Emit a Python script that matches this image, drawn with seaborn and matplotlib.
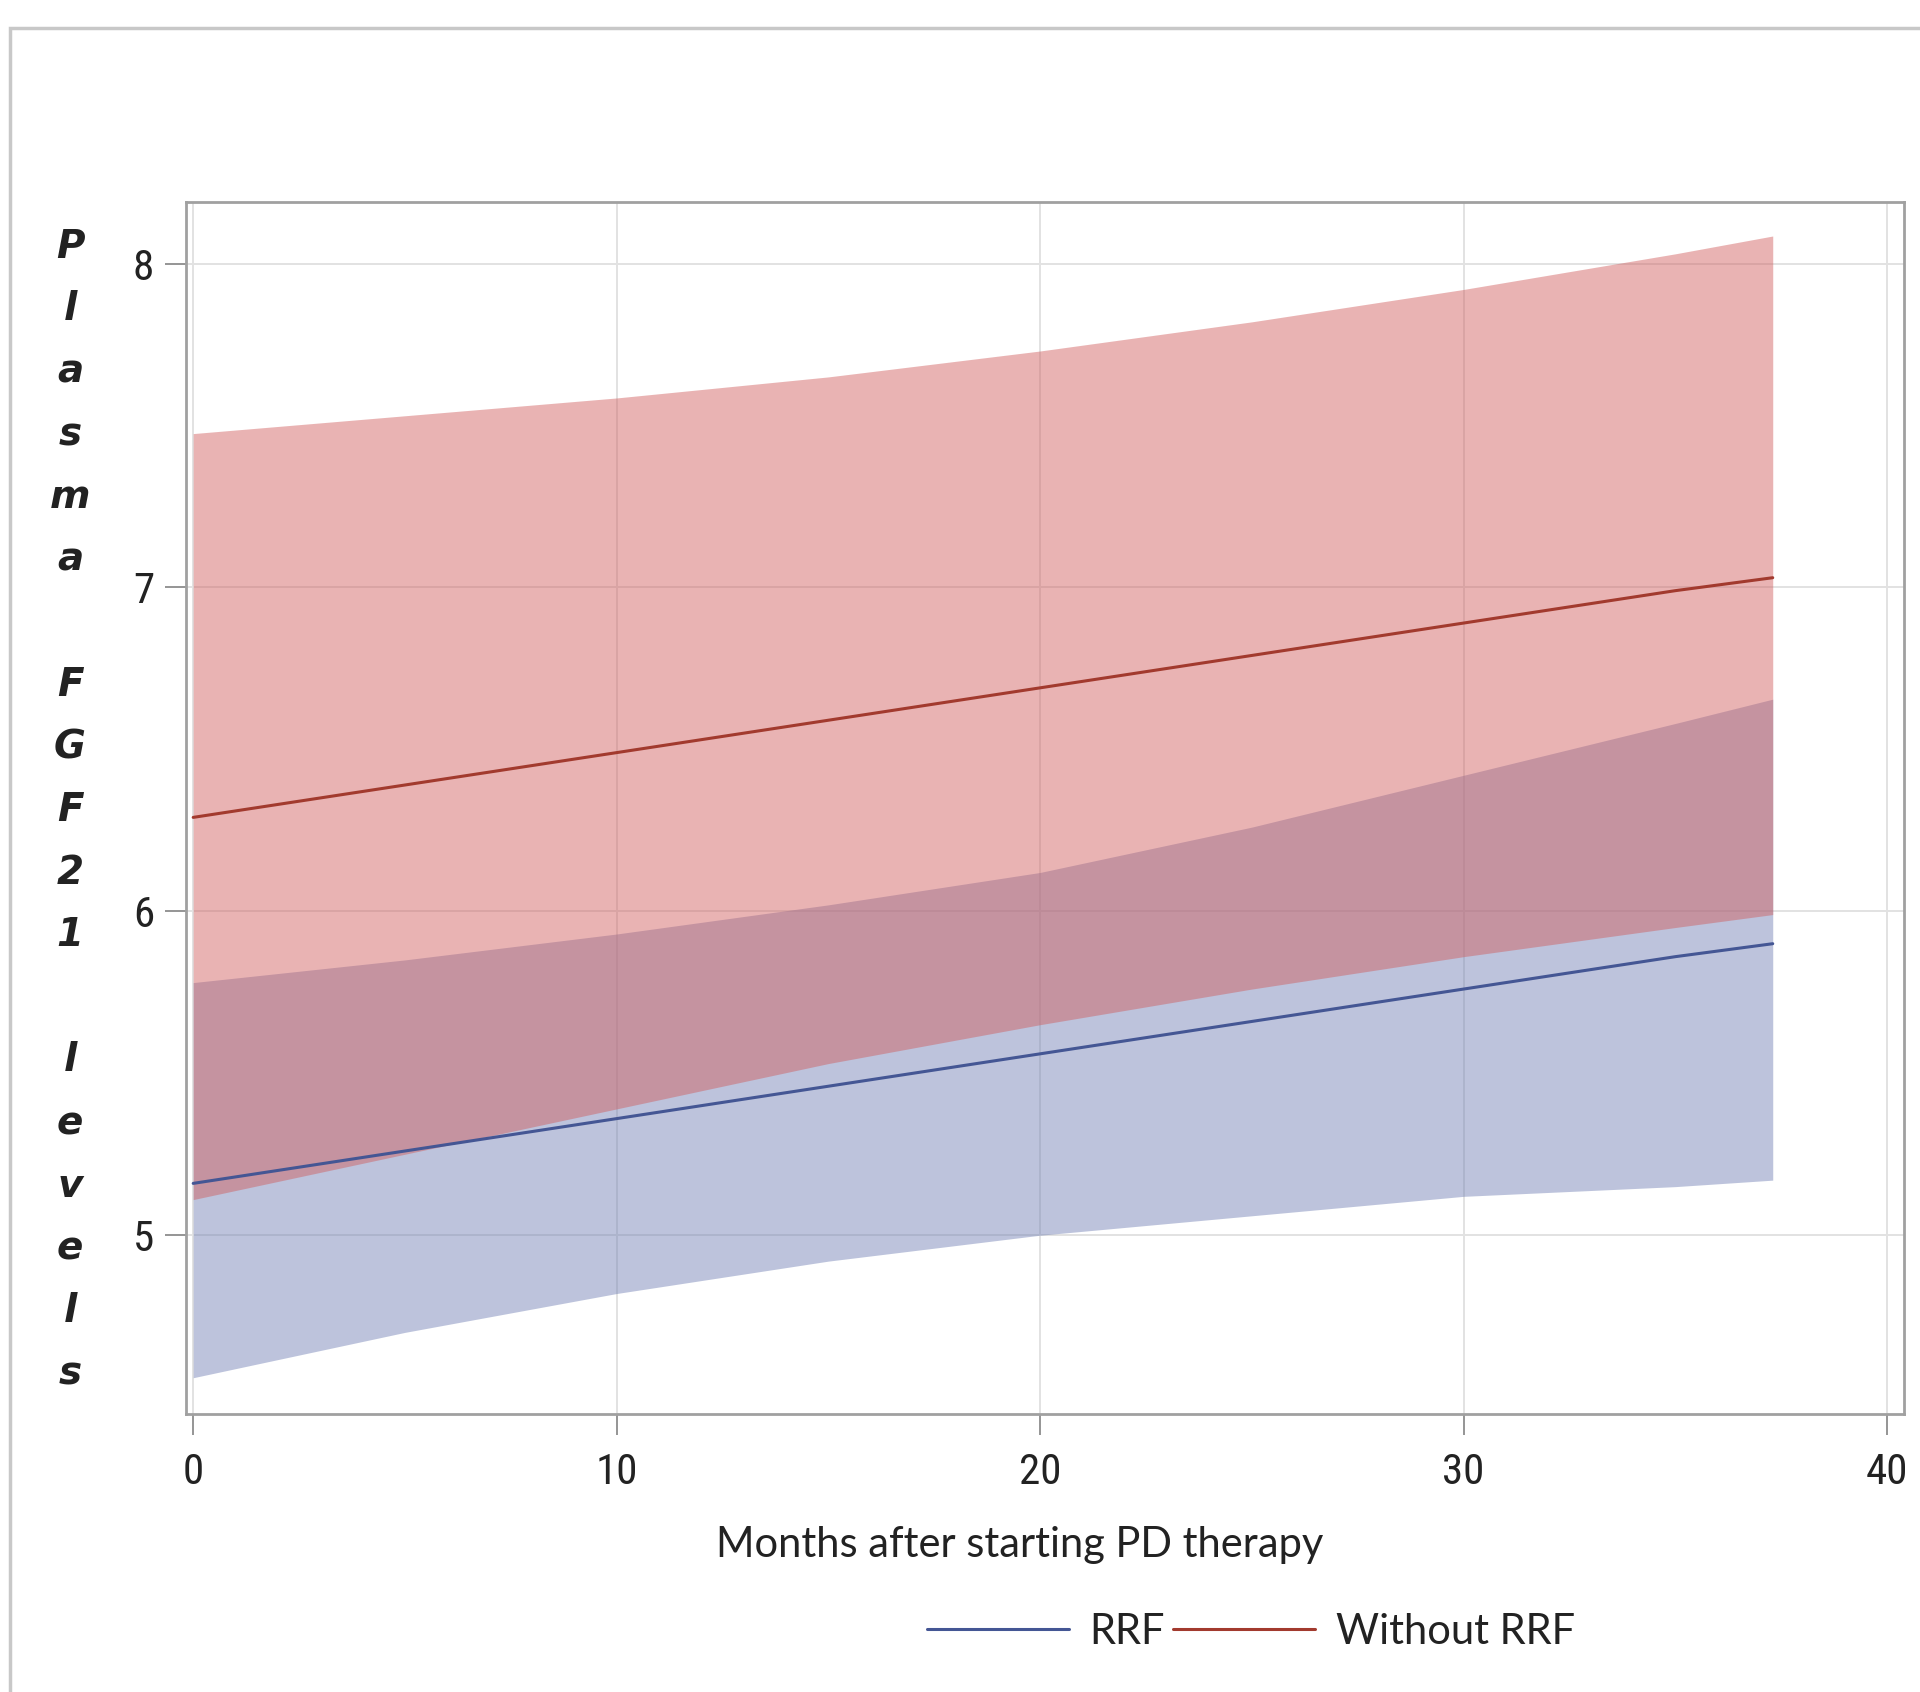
import numpy as np
import pandas as pd
import matplotlib
matplotlib.use("Agg")
import matplotlib.pyplot as plt
from matplotlib import font_manager
from matplotlib.patches import Rectangle
import seaborn as sns

# ---- data ----
months = [0, 5, 10, 15, 20, 25, 30, 35, 37.3]
rrf_mean = [5.16, 5.26, 5.36, 5.46, 5.56, 5.66, 5.76, 5.86, 5.90]
rrf_upper = [5.78, 5.85, 5.93, 6.02, 6.12, 6.26, 6.42, 6.58, 6.655]
rrf_lower = [4.56, 4.70, 4.82, 4.92, 5.00, 5.06, 5.12, 5.15, 5.17]
norrf_mean = [6.29, 6.39, 6.49, 6.59, 6.69, 6.79, 6.89, 6.99, 7.03]
norrf_upper = [7.475, 7.53, 7.585, 7.65, 7.73, 7.82, 7.92, 8.03, 8.085]
norrf_lower = [5.11, 5.25, 5.39, 5.53, 5.65, 5.76, 5.86, 5.95, 5.99]
groups = ["RRF", "Without RRF"]
x_ticks = [0, 10, 20, 30, 40]
y_ticks = [5, 6, 7, 8]
x_label = "Months after starting PD therapy"
y_label_words = ["Plasma", "FGF21", "levels"]

line_colors = {"RRF": "#445694", "Without RRF": "#A23A2E"}
fill_colors = {"RRF": "#6F7EB3", "Without RRF": "#D05B5B"}

sns.set_theme(style="white")

avail = {f.name for f in font_manager.fontManager.ttflist}
def pick(*names):
    for n in names:
        if n in avail:
            return n
    return "DejaVu Sans"
narrow = pick("Liberation Sans Narrow", "Roboto Condensed", "Liberation Sans")
calib = pick("Lato", "Open Sans", "DejaVu Sans")
plt.rcParams["font.family"] = ["DejaVu Sans"]

df = pd.DataFrame({
    "month": months * 2,
    "value": rrf_mean + norrf_mean,
    "group": [groups[0]] * len(months) + [groups[1]] * len(months),
})

W, H = 1920, 1692
fig = plt.figure(figsize=(W / 100, H / 100), dpi=100)
ax = fig.add_axes([186 / W, 1 - 1414 / H, (1904 - 186) / W, (1414 - 202) / H])

# bands
ax.fill_between(months, rrf_lower, rrf_upper, color=fill_colors["RRF"], alpha=0.46, lw=0, zorder=2)
ax.fill_between(months, norrf_lower, norrf_upper, color=fill_colors["Without RRF"], alpha=0.46, lw=0, zorder=2)

sns.lineplot(data=df, x="month", y="value", hue="group", hue_order=groups,
             palette=line_colors, linewidth=2.2, ax=ax, zorder=3)

ax.set_xlim(-0.17, 40.4)
ax.set_ylim(4.448, 8.19)
ax.set_xticks(x_ticks)
ax.set_yticks(y_ticks)
ax.set_xticklabels([str(t) for t in x_ticks], fontfamily=narrow, fontsize=31)
ax.set_yticklabels([str(t) for t in y_ticks], fontfamily=narrow, fontsize=31)
ax.grid(True, color="#e2e2e2", lw=1.4, zorder=0)
ax.set_axisbelow(True)
ax.tick_params(axis="both", which="major", length=15, width=1.3, color="#8c8c8c",
               labelcolor="#222222", direction="out", bottom=True, left=True)
ax.tick_params(axis="x", pad=12)
ax.tick_params(axis="y", pad=8)
for s in ax.spines.values():
    s.set_color("#a0a0a0")
    s.set_linewidth(2.0)

ax.set_xlabel(x_label, fontfamily=calib, fontsize=30, color="#222222")
ax.xaxis.set_label_coords((1020 - 186) / 1718, (1414 - 1545) / 1212)
ax.xaxis.label.set_va("center")

ylab = "\n\n".join("\n".join(w) for w in y_label_words)
ax.set_ylabel(ylab, rotation=0, fontsize=28, fontstyle="italic", fontweight="bold",
              color="#222222", linespacing=1.82, ha="center", va="center")
ax.yaxis.set_label_coords((70 - 186) / 1718, (1414 - 810) / 1212)

handles, labels = ax.get_legend_handles_labels()
ax.legend(handles, labels, loc="center", bbox_to_anchor=(1251 / W, 1 - 1632 / H),
          bbox_transform=fig.transFigure, ncol=2, frameon=False,
          prop={"family": calib, "size": 30}, handlelength=3.4, handletextpad=0.5,
          columnspacing=0.2, labelcolor="#222222")

# outer frame of the graph
fig.add_artist(Rectangle((10 / W, -0.1), 1.2, 1 - 28 / H + 0.1, transform=fig.transFigure,
                         fill=False, edgecolor="#c8c8c8", lw=2.5))

fig.savefig("out.png", dpi=100)
